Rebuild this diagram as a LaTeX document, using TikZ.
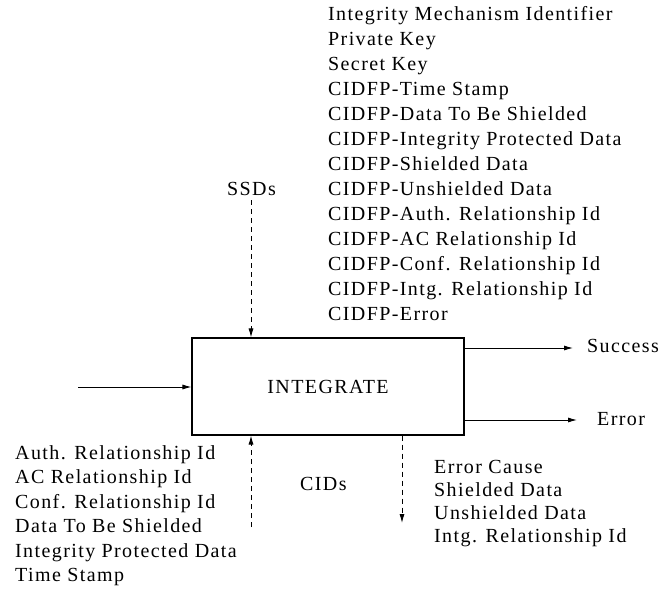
\documentclass[tikz,border=0pt]{standalone}
\usepackage{fontspec}
\setmainfont{Liberation Serif}[LetterSpace=7]
\usetikzlibrary{arrows.meta}
\begin{document}
\begin{tikzpicture}[x=1pt,y=-1pt,
  lbl/.style={inner sep=0pt, anchor=base west, font=\fontsize{20}{25}\selectfont},
  arr/.style={line width=0.9pt, -{Latex[length=9pt,width=5pt]}},
  darr/.style={arr, dash pattern=on 5pt off 4pt},
  box/.style={draw, line width=1.1pt, minimum width=272pt, minimum height=97pt, inner sep=0pt, font=\fontsize{20}{25}\selectfont}]
\useasboundingbox (0,0) rectangle (664,591);
\node[box] (int) at (328,386.5) {INTEGRATE};
% top list
\foreach \t [count=\i from 0] in {Integrity Mechanism Identifier, Private Key, Secret Key,
  CIDFP-Time Stamp, CIDFP-Data To Be Shielded, CIDFP-Integrity Protected Data,
  CIDFP-Shielded Data, CIDFP-Unshielded Data, CIDFP-Auth. Relationship Id,
  CIDFP-AC Relationship Id, CIDFP-Conf. Relationship Id, CIDFP-Intg. Relationship Id,
  CIDFP-Error}
  \node[lbl] (top\i) at (328,{20.7+25*\i}) {\t};
% bottom left list
\foreach \t [count=\i from 0] in {Auth. Relationship Id, AC Relationship Id,
  Conf. Relationship Id, Data To Be Shielded, Integrity Protected Data, Time Stamp}
  \node[lbl] (bl\i) at (15,{459+24.5*\i}) {\t};
% bottom right list
\foreach \t [count=\i from 0] in {Error Cause, Shielded Data, Unshielded Data,
  Intg. Relationship Id}
  \node[lbl] (br\i) at (434,{473+23.3*\i}) {\t};
\node[lbl] (ssd) at (227,195.7) {SSDs};
\node[lbl] (cid) at (300,490) {CIDs};
\node[lbl] (suc) at (587,352) {Success};
\node[lbl] (err) at (597,425) {Error};
% connectors
\coordinate (inS) at (78,387);
\draw[arr] (inS) -- (inS -| int.west);
\coordinate (ssdS) at (251,200);
\draw[darr] (ssdS) -- (ssdS |- int.north);
\coordinate (cidS) at (251,527);
\draw[darr] (cidS) -- (cidS |- int.south);
\coordinate (errD) at (402,523);
\draw[darr] (errD |- int.south) -- (errD);
\coordinate (sucE) at (573,348);
\draw[arr] (sucE -| int.east) -- (sucE);
\coordinate (errE) at (577,420);
\draw[arr] (errE -| int.east) -- (errE);
\end{tikzpicture}
\end{document}
